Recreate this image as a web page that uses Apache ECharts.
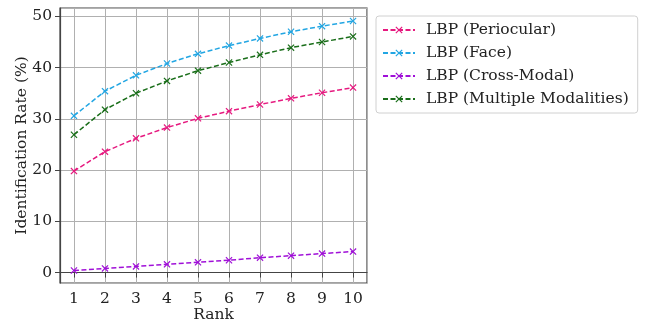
<!DOCTYPE html>
<html><head><meta charset="utf-8">
<script src="https://cdn.jsdelivr.net/npm/echarts@6/dist/echarts.min.js"></script>
<style>html,body{margin:0;padding:0;background:#fff}#c{width:645px;height:325px}</style>
</head><body><div id="c"></div>
<script>
const ranks = [1,2,3,4,5,6,7,8,9,10];
const periocular = [19.8, 23.6, 26.2, 28.3, 30.1, 31.5, 32.8, 34.0, 35.1, 36.1];
const face = [30.6, 35.4, 38.5, 40.8, 42.7, 44.3, 45.7, 47.0, 48.1, 49.1];
const crossModal = [0.4, 0.8, 1.2, 1.6, 2.0, 2.4, 2.9, 3.3, 3.7, 4.1];
const multiple = [26.9, 31.8, 35.0, 37.4, 39.4, 41.0, 42.5, 43.9, 45.0, 46.1];
const names = ['LBP (Periocular)', 'LBP (Face)', 'LBP (Cross-Modal)', 'LBP (Multiple Modalities)'];
const colors = ['#e6197f', '#22a6e3', '#a010d8', '#1a6e1a'];

const xMark = 'path://M0,1.2L1.2,0L5,3.8L8.8,0L10,1.2L6.2,5L10,8.8L8.8,10L5,6.2L1.2,10L0,8.8L3.8,5Z';
const font = 'DejaVu Serif';
const allData = [periocular, face, crossModal, multiple];

const chart = echarts.init(document.getElementById('c'), null, {renderer: 'canvas'});
chart.setOption({
  animation: false,
  textStyle: {fontFamily: font},
  grid: {left: 60, right: 278, top: 8, bottom: 42, show: true, borderColor: '#444', borderWidth: 1.2,
         containLabel: false, outerBoundsMode: 'none'},
  legend: {
    orient: 'vertical', left: 376, top: 16,
    padding: [6, 9, 6, 6],
    itemWidth: 32, itemHeight: 9, itemGap: 7,
    borderColor: '#d0d0d0', borderWidth: 1, borderRadius: 3,
    textStyle: {fontFamily: font, fontSize: 15.5, color: '#222', lineHeight: 16, padding: [0, 0, 0, 6]},
    data: names
  },
  xAxis: {
    type: 'value', min: 0.55, max: 10.45, splitNumber: 10,
    name: 'Rank', nameLocation: 'middle', nameGap: 24, nameMoveOverlap: false,
    nameTextStyle: {fontFamily: font, fontSize: 15.5, color: '#222'},
    axisLine: {show: true, lineStyle: {color: '#444', width: 1.2}},
    axisTick: {show: true, inside: false, length: 5, lineStyle: {color: '#444'}},
    axisLabel: {fontFamily: font, fontSize: 15.5, color: '#222', margin: 8, showMinLabel: false, showMaxLabel: false},
    splitLine: {show: true, lineStyle: {color: '#b0b0b0', width: 1}}
  },
  yAxis: {
    type: 'value', min: -2.04, max: 51.64, splitNumber: 5,
    name: 'Identification Rate (%)', nameLocation: 'middle', nameGap: 30, nameRotate: 90, nameMoveOverlap: false,
    nameTextStyle: {fontFamily: font, fontSize: 15.5, color: '#222'},
    axisLine: {show: true, lineStyle: {color: '#444', width: 1.2}},
    axisTick: {show: true, inside: false, length: 5, lineStyle: {color: '#444'}},
    axisLabel: {fontFamily: font, fontSize: 15.5, color: '#222', margin: 8, showMinLabel: false, showMaxLabel: false},
    splitLine: {show: true, lineStyle: {color: '#b0b0b0', width: 1}}
  },
  series: names.map((n, i) => ({
    name: n, type: 'line',
    data: ranks.map((r, j) => [r, allData[i][j]]),
    symbol: xMark, symbolSize: 7,
    lineStyle: {color: colors[i], width: 1.5, type: [5, 2.5]},
    itemStyle: {color: colors[i]}
  }))
});
</script></body></html>
